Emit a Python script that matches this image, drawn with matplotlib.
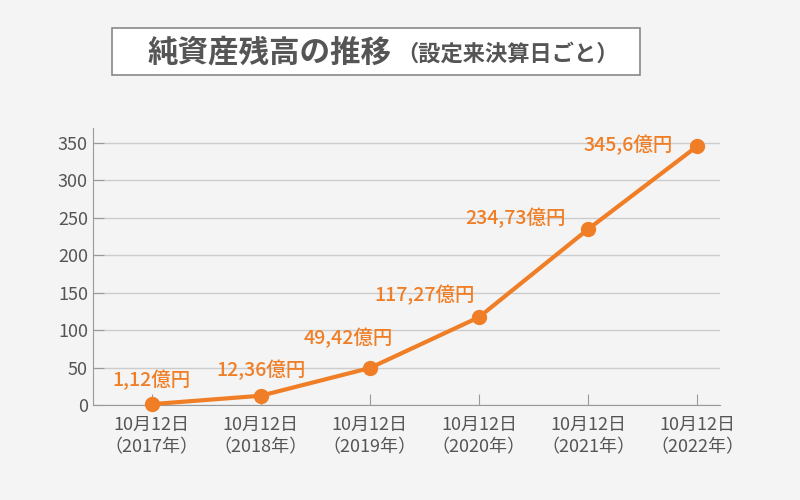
import matplotlib
matplotlib.use("Agg")
import matplotlib.pyplot as plt
from matplotlib.patches import Rectangle

plt.rcParams["font.family"] = "Noto Sans CJK JP"

categories = ["10月12日\n（2017年）", "10月12日\n（2018年）", "10月12日\n（2019年）",
              "10月12日\n（2020年）", "10月12日\n（2021年）", "10月12日\n（2022年）"]
values = [1.12, 12.36, 49.42, 117.27, 234.73, 345.6]
labels = ["1,12億円", "12,36億円", "49,42億円", "117,27億円", "234,73億円", "345,6億円"]
yticks = [0, 50, 100, 150, 200, 250, 300, 350]

# label offsets from point, in pixels (style only)
offs = [(0, 24), (0, 26), (-22, 30), (-54, 22), (-73, 11), (-69, 1)]

orange = "#f07e26"
gray = "#555555"
bg = "#f4f4f4"

fig = plt.figure(figsize=(8, 5), dpi=100, facecolor=bg)
ax = fig.add_axes([0.116, 0.19, 0.784, 0.554], facecolor=bg)
x = list(range(len(values)))
ax.plot(x, values, color=orange, lw=3, marker="o", ms=10, zorder=3, clip_on=False)
for xi, v, l, (dx, dy) in zip(x, values, labels, offs):
    ax.annotate(l, (xi, v), xytext=(dx * 0.72, dy * 0.72), textcoords="offset points", ha="center",
                va="center", color=orange, fontsize=14, fontweight="medium")
ax.set_xlim(-0.54, 5.21)
ax.set_ylim(0, 370)
ax.set_yticks(yticks)
ax.set_xticks(x)
ax.set_xticklabels(categories, fontsize=13, color=gray, linespacing=1.3)
ax.tick_params(axis="y", labelsize=13, labelcolor=gray, direction="in", length=8, color="#999999")
ax.tick_params(axis="x", direction="in", length=8, color="#999999", pad=8)
ax.grid(axis="y", color="#cccccc", lw=1)
ax.set_axisbelow(True)
for s in ["top", "right"]:
    ax.spines[s].set_visible(False)
for s in ["left", "bottom"]:
    ax.spines[s].set_color("#999999")

fig.patches.append(Rectangle((112/800, 1-75/500), 528/800, 47/500, transform=fig.transFigure,
                             facecolor="white", edgecolor="#888888", lw=1.2))
fig.text(148/800, 1-52/500, "純資産残高の推移", fontsize=22, fontweight="bold", color=gray, va="center")
fig.text(396/800, 1-54/500, "（設定来決算日ごと）", fontsize=16, fontweight="bold", color=gray, va="center")
fig.savefig("out.png", dpi=100, facecolor=bg)
